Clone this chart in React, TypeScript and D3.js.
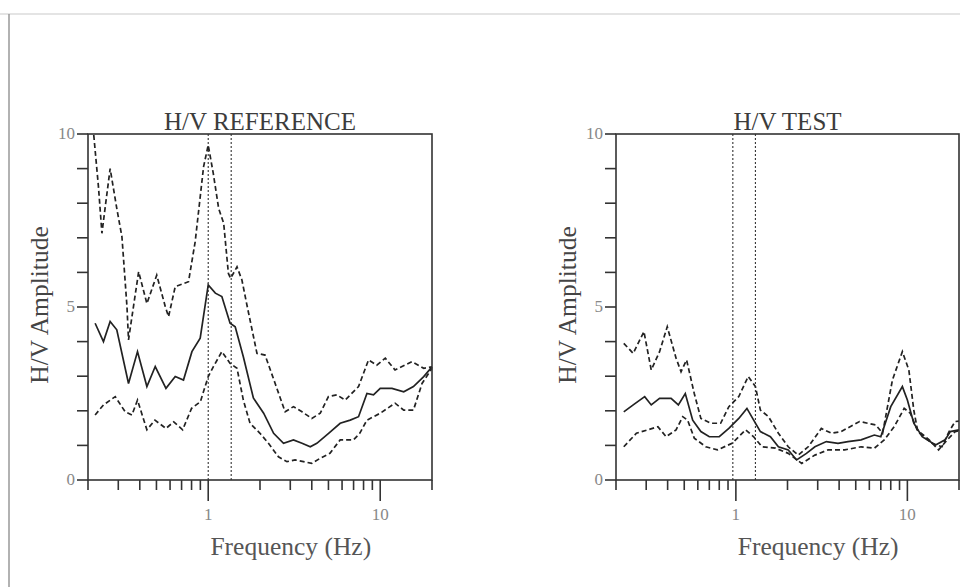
import * as d3 from 'd3'
import { FC } from 'react'

// H/V spectral ratio curves, [frequency (Hz), amplitude]
const refMean: [number, number][] = [
  [0.22, 4.53], [0.246, 4.0], [0.269, 4.58], [0.294, 4.34], [0.344, 2.79], [0.388, 3.71], [0.44, 2.7],
  [0.492, 3.28], [0.568, 2.65], [0.643, 2.99], [0.718, 2.89], [0.804, 3.71], [0.898, 4.1], [1.0, 5.64],
  [1.1, 5.4], [1.2, 5.3], [1.34, 4.53], [1.435, 4.43], [1.6, 3.56], [1.83, 2.37], [2.1, 1.93], [2.4, 1.35],
  [2.74, 1.06], [3.13, 1.16], [3.51, 1.06], [3.92, 0.96], [4.28, 1.06], [5.01, 1.35], [5.85, 1.64],
  [6.69, 1.73], [7.48, 1.83], [8.37, 2.5], [9.14, 2.46], [10, 2.65], [11.7, 2.65], [13.7, 2.55],
  [15.6, 2.7], [17.9, 2.99], [20, 3.27],
]
const refUpper: [number, number][] = [
  [0.216, 9.97], [0.23, 8.48], [0.241, 7.13], [0.252, 7.9], [0.269, 9.0], [0.294, 7.85], [0.315, 7.03],
  [0.337, 5.01], [0.344, 4.05], [0.394, 6.02], [0.44, 5.1], [0.502, 5.92], [0.563, 5.01], [0.588, 4.72],
  [0.643, 5.59], [0.768, 5.73], [0.84, 6.89], [0.94, 9.06], [1.0, 9.68], [1.07, 8.86], [1.15, 7.85],
  [1.23, 7.42], [1.31, 5.97], [1.35, 5.83], [1.47, 6.16], [1.57, 5.78], [1.68, 5.05], [1.92, 3.66],
  [2.14, 3.61], [2.45, 2.79], [2.8, 1.97], [3.13, 2.12], [3.51, 1.97], [4.0, 1.78], [4.48, 1.93],
  [5.0, 2.41], [5.6, 2.46], [6.25, 2.31], [7.48, 2.7], [8.55, 3.47], [9.55, 3.32], [10.7, 3.52],
  [12.2, 3.18], [15.3, 3.42], [17.9, 3.23], [20, 3.27],
]
const refLower: [number, number][] = [
  [0.22, 1.88], [0.246, 2.17], [0.288, 2.41], [0.329, 1.97], [0.36, 1.88], [0.388, 2.31], [0.44, 1.45],
  [0.49, 1.73], [0.568, 1.49], [0.63, 1.68], [0.71, 1.45], [0.8, 2.07], [0.9, 2.26], [1.0, 2.99],
  [1.07, 3.27], [1.2, 3.71], [1.34, 3.37], [1.47, 3.23], [1.6, 2.31], [1.75, 1.64], [2.0, 1.35],
  [2.24, 1.06], [2.56, 0.67], [2.87, 0.53], [3.2, 0.58], [3.58, 0.53], [4.0, 0.48], [4.48, 0.63],
  [5.1, 0.77], [5.85, 1.16], [7.0, 1.16], [7.6, 1.35], [8.37, 1.73], [10, 1.93], [12.2, 2.22],
  [13.7, 2.02], [15.6, 2.02], [17.5, 2.79], [20, 3.23],
]

const testMean: [number, number][] = [
  [0.222, 1.97], [0.252, 2.17], [0.294, 2.41], [0.321, 2.17], [0.359, 2.36], [0.419, 2.36], [0.462, 2.17],
  [0.507, 2.5], [0.56, 1.73], [0.625, 1.4], [0.7, 1.25], [0.8, 1.25], [0.91, 1.49], [1.04, 1.78],
  [1.16, 2.07], [1.27, 1.73], [1.39, 1.4], [1.59, 1.25], [1.77, 0.96], [2.02, 0.87], [2.26, 0.58],
  [2.58, 0.77], [2.89, 0.96], [3.37, 1.11], [3.94, 1.06], [4.5, 1.11], [5.37, 1.16], [6.42, 1.3],
  [7.0, 1.25], [8.0, 2.12], [9.35, 2.7], [10.0, 2.31], [10.9, 1.64], [12.2, 1.25], [14.6, 1.01],
  [16.6, 1.16], [17.8, 1.4], [20, 1.45],
]
const testUpper: [number, number][] = [
  [0.222, 3.95], [0.252, 3.66], [0.291, 4.29], [0.321, 3.18], [0.359, 3.71], [0.398, 4.43], [0.448, 3.52],
  [0.479, 3.13], [0.516, 3.47], [0.572, 2.5], [0.625, 1.78], [0.714, 1.64], [0.815, 1.64], [0.91, 2.12],
  [1.04, 2.41], [1.18, 2.99], [1.3, 2.7], [1.39, 2.02], [1.55, 1.83], [1.77, 1.35], [2.02, 0.96],
  [2.31, 0.72], [2.64, 0.96], [3.15, 1.49], [3.61, 1.35], [4.11, 1.4], [5.26, 1.69], [6.55, 1.59],
  [7.17, 1.35], [8.18, 2.89], [9.35, 3.71], [10.2, 3.18], [10.9, 2.02], [11.5, 1.4], [13.9, 1.06],
  [15.9, 0.96], [17.5, 1.4], [19, 1.69], [20, 1.7],
]
const testLower: [number, number][] = [
  [0.222, 0.96], [0.263, 1.35], [0.351, 1.54], [0.392, 1.25], [0.448, 1.45], [0.49, 1.83], [0.523, 1.73],
  [0.572, 1.21], [0.668, 0.96], [0.78, 0.87], [0.95, 1.06], [1.14, 1.45], [1.27, 1.25], [1.42, 0.96],
  [1.7, 0.92], [2.02, 0.77], [2.42, 0.48], [2.89, 0.72], [3.45, 0.87], [4.31, 0.87], [5.37, 0.96],
  [6.42, 0.92], [7.33, 1.16], [8.38, 1.54], [9.58, 2.07], [10.4, 1.93], [11.4, 1.45], [13.4, 1.16],
  [15.2, 0.87], [17.1, 1.16], [19, 1.4], [20, 1.42],
]

// peak frequency markers (dotted verticals)
const refMarkers = [1.0, 1.36]
const testMarkers = [0.96, 1.3]

const xTickValues = [0.2, 0.3, 0.4, 0.5, 0.6, 0.7, 0.8, 0.9, 1, 2, 3, 4, 5, 6, 7, 8, 9, 10, 20]
const xLabelValues = [1, 10]
const yTickValues = d3.range(0, 11)
const yLabelValues = [0, 5, 10]

const FONT = '"Liberation Serif", "Times New Roman", serif'
const AXIS = '#333'
const INK = '#222'

interface PanelProps {
  title: string
  left: number
  right: number
  mean: [number, number][]
  upper: [number, number][]
  lower: [number, number][]
  markers: number[]
}

const top = 134
const bottom = 480

const Panel: FC<PanelProps> = ({ title, left, right, mean, upper, lower, markers }) => {
  const x = d3.scaleLog().domain([0.2, 20]).range([left, right])
  const y = d3.scaleLinear().domain([0, 10]).range([bottom, top])
  const line = d3
    .line<[number, number]>()
    .x((d) => x(d[0]))
    .y((d) => y(d[1]))

  return (
    <g>
      {/* title */}
      <text x={(left + right) / 2} y={130} textAnchor='middle' fontSize={25} fill='#3c3c3c' fontFamily={FONT}>
        {title}
      </text>

      {/* markers */}
      {markers.map((m) => (
        <line key={m} x1={x(m)} x2={x(m)} y1={top} y2={bottom} stroke='#333' strokeWidth={1.1} strokeDasharray='2,2' />
      ))}

      {/* curves */}
      <path d={line(upper) ?? ''} fill='none' stroke={INK} strokeWidth={1.7} strokeDasharray='5,3' />
      <path d={line(lower) ?? ''} fill='none' stroke={INK} strokeWidth={1.7} strokeDasharray='5,3' />
      <path d={line(mean) ?? ''} fill='none' stroke={INK} strokeWidth={1.7} />

      {/* frame */}
      <rect x={left} y={top} width={right - left} height={bottom - top} fill='none' stroke={AXIS} strokeWidth={1.6} />

      {/* y ticks */}
      {yTickValues.map((v) => (
        <line key={v} x1={left - 11} x2={left} y1={y(v)} y2={y(v)} stroke={AXIS} strokeWidth={1.6} />
      ))}
      {yLabelValues.map((v) => (
        <text key={v} x={left - 13} y={y(v) + 5} textAnchor='end' fontSize={17} fill='#888' fontFamily={FONT}>
          {v}
        </text>
      ))}

      {/* x ticks */}
      {xTickValues.map((f) => (
        <line
          key={f}
          x1={x(f)}
          x2={x(f)}
          y1={bottom}
          y2={bottom + (f === 1 || f === 10 ? 21 : 10)}
          stroke={AXIS}
          strokeWidth={1.6}
        />
      ))}
      {xLabelValues.map((f) => (
        <text key={f} x={x(f)} y={520} textAnchor='middle' fontSize={17} fill='#888' fontFamily={FONT}>
          {f}
        </text>
      ))}

      {/* axis titles */}
      <text x={x(3.02)} y={555} textAnchor='middle' fontSize={25.5} fill='#555' fontFamily={FONT}>
        Frequency (Hz)
      </text>
      <text
        transform={`translate(${left - 40}, ${(top + bottom) / 2 - 2}) rotate(-90)`}
        textAnchor='middle'
        fontSize={25.5}
        fill='#444'
        fontFamily={FONT}
      >
        H/V Amplitude
      </text>
    </g>
  )
}

const App: FC = () => {
  const width = 960
  const height = 587
  return (
    <div style={{ position: 'absolute', left: 0, top: 0 }}>
      <svg width={width} height={height} style={{ display: 'block', background: '#fff' }}>
        {/* outer figure border */}
        <line x1={0} x2={width} y1={14} y2={14} stroke='#e4e4e4' strokeWidth={2} />
        <line x1={9} x2={9} y1={14} y2={height} stroke='#999' strokeWidth={1.5} />

        <Panel title='H/V REFERENCE' left={88} right={432} mean={refMean} upper={refUpper} lower={refLower} markers={refMarkers} />
        <Panel title='H/V TEST' left={616} right={959} mean={testMean} upper={testUpper} lower={testLower} markers={testMarkers} />
      </svg>
    </div>
  )
}

export default App
